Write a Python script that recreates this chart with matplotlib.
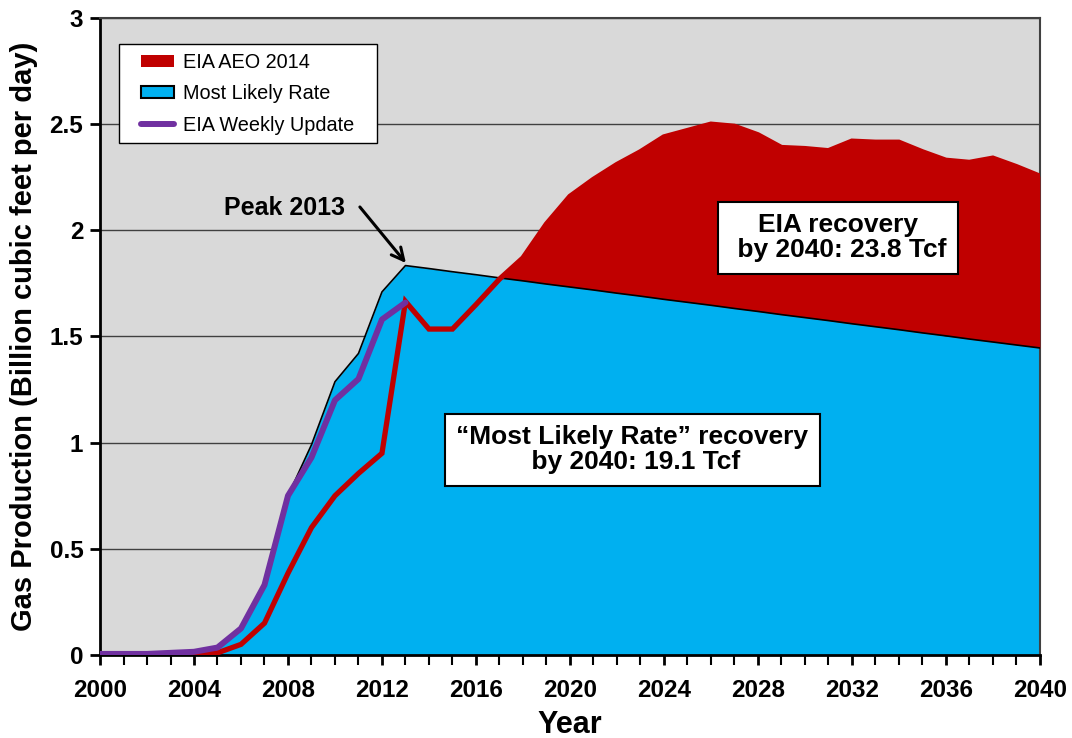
import numpy as np
import matplotlib
matplotlib.use('Agg')
import matplotlib.pyplot as plt
from matplotlib.patches import Patch, Rectangle
from matplotlib.lines import Line2D

plt.rcParams['font.family'] = ['Liberation Sans', 'DejaVu Sans']

years = np.arange(2000, 2041)

# Most Likely Rate (billion cubic feet per day), 2000-2040
most_likely = [0.005, 0.005, 0.005, 0.01, 0.015, 0.04, 0.13, 0.33, 0.75, 0.99,
               1.287, 1.42, 1.71, 1.834, 1.820, 1.805, 1.791, 1.776, 1.762, 1.747,
               1.733, 1.719, 1.704, 1.690, 1.675, 1.661, 1.647, 1.632, 1.618, 1.603,
               1.589, 1.575, 1.560, 1.546, 1.532, 1.517, 1.503, 1.488, 1.474, 1.460,
               1.446]

# EIA AEO 2014, 2000-2040
aeo_2014 = [0.0, 0.0, 0.0, 0.0, 0.003, 0.01, 0.05, 0.15, 0.385, 0.60,
            0.75, 0.855, 0.95, 1.665, 1.535, 1.535, 1.65, 1.77, 1.87, 2.03,
            2.16, 2.24, 2.31, 2.37, 2.44, 2.47, 2.50, 2.49, 2.45, 2.39,
            2.385, 2.375, 2.42, 2.415, 2.415, 2.37, 2.33, 2.32, 2.34, 2.30,
            2.255]

# EIA Weekly Update, 2000-2013
weekly_years = np.arange(2000, 2014)
weekly = [0.005, 0.005, 0.005, 0.01, 0.015, 0.035, 0.125, 0.33, 0.75, 0.93,
          1.20, 1.30, 1.58, 1.66]

mlr = np.array(most_likely)
aeo = np.array(aeo_2014)

fig = plt.figure(figsize=(10.72, 7.38), dpi=100)
ax = fig.add_axes([0.0933, 0.1125, 0.8767, 0.8631])
ax.set_facecolor('#d9d9d9')

ax.set_xlim(2000, 2040)
ax.set_ylim(0, 3)
ax.set_yticks([0, 0.5, 1, 1.5, 2, 2.5, 3])
ax.set_yticklabels(['0', '0.5', '1', '1.5', '2', '2.5', '3'])
ax.set_xticks(np.arange(2000, 2041, 4))
ax.set_xticks(np.arange(2000, 2041, 1), minor=True)
ax.yaxis.grid(True, color='#404040', linewidth=1.0)
ax.set_axisbelow(True)

ax.fill_between(years, 0, mlr, color='#00b0f0', zorder=2, linewidth=0)
ax.fill_between(years, mlr, aeo, where=aeo >= mlr, interpolate=True,
                color='#c00000', zorder=3, linewidth=0)
ax.plot(years, mlr, color='black', linewidth=1.2, zorder=4)
ax.plot(years, aeo, color='#c00000', linewidth=3.8, zorder=5,
        solid_joinstyle='miter')
ax.plot(weekly_years, weekly, color='#7030a0', linewidth=4.3, zorder=6,
        solid_capstyle='round')

for s in ['left', 'bottom']:
    ax.spines[s].set_linewidth(2)
    ax.spines[s].set_color('black')
for s in ['top', 'right']:
    ax.spines[s].set_linewidth(1.5)
    ax.spines[s].set_color('#404040')

ax.tick_params(axis='both', which='major', direction='out', width=2, length=7,
               labelsize=17.5)
ax.tick_params(axis='x', which='major', pad=10)
ax.tick_params(axis='y', which='major', pad=5)
ax.tick_params(axis='x', which='minor', direction='out', width=1.5, length=7)
for lab in ax.get_xticklabels() + ax.get_yticklabels():
    lab.set_fontweight('bold')

ax.set_xlabel('Year', fontsize=22, fontweight='bold', labelpad=6)
ax.set_ylabel('Gas Production (Billion cubic feet per day)', fontsize=21,
              fontweight='bold', labelpad=8)

# legend frame drawn by hand so padding matches
ax.add_patch(Rectangle((0.0202, (655 - 143) / 637), (377 - 119) / 940,
                       (143 - 44) / 637, transform=ax.transAxes,
                       facecolor='white', edgecolor='black', linewidth=1,
                       zorder=9))
handles = [Patch(facecolor='#c00000', edgecolor='none'),
           Patch(facecolor='#00b0f0', edgecolor='black', linewidth=1.5),
           Line2D([0], [0], color='#7030a0', linewidth=4.3,
                  solid_capstyle='round')]
leg = ax.legend(handles, ['EIA AEO 2014', 'Most Likely Rate', 'EIA Weekly Update'],
                loc='upper left', bbox_to_anchor=((141 - 100) / 940, (655 - 53) / 637),
                borderaxespad=0, borderpad=0, fontsize=14.3, frameon=False,
                labelspacing=0.62, handlelength=1.65, handleheight=0.55,
                handletextpad=0.45)
leg.set_zorder(10)

ax.annotate('', xy=(2013.02, 1.846), xytext=(2011.06, 2.11),
            arrowprops=dict(arrowstyle='->', color='black', lw=2.2,
                            mutation_scale=22, shrinkA=0, shrinkB=0),
            zorder=10)
ax.text(2007.87, 2.105, 'Peak 2013', fontsize=18, fontweight='bold',
        ha='center', va='center', zorder=10)

box = dict(boxstyle='square,pad=0.45', facecolor='white', edgecolor='black',
           linewidth=1.5)
ax.text(2031.4, 1.964, 'EIA recovery\n by 2040: 23.8 Tcf', fontsize=19,
        fontweight='bold', ha='center', va='center', bbox=box, zorder=10,
        linespacing=1.05)
ax.text(2022.66, 0.966, '\u201cMost Likely Rate\u201d recovery\n by 2040: 19.1 Tcf',
        fontsize=19, fontweight='bold', ha='center', va='center', bbox=box,
        zorder=10, linespacing=1.05)

fig.savefig('out.png', dpi=100)
